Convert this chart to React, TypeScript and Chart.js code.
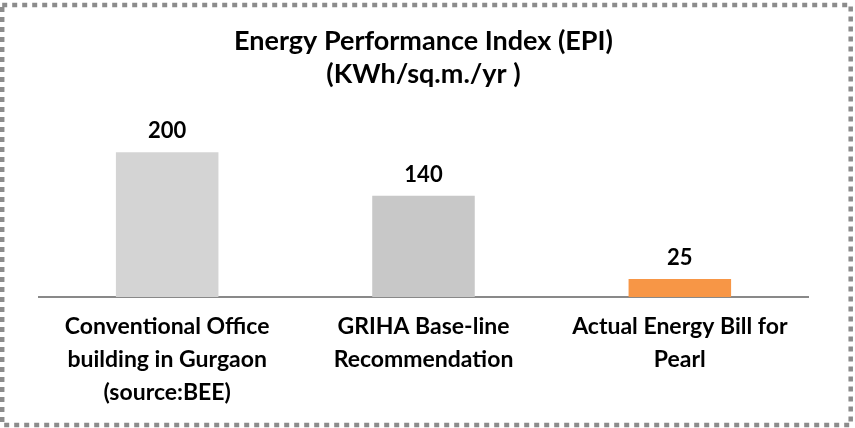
import React, { useEffect, useRef } from "react";
import { Chart, registerables } from "chart.js";

Chart.register(...registerables);

const categories: string[][] = [
  ["Conventional Office", "building in Gurgaon", "(source:BEE)"],
  ["GRIHA Base-line", "Recommendation"],
  ["Actual Energy Bill for", "Pearl"],
];
const epiValues: number[] = [200, 140, 25];
const barColors: string[] = ["#d4d4d4", "#c8c8c8", "#f79646"];
const titleLines: string[] = ["Energy Performance Index (EPI)", "(KWh/sq.m./yr )"];

const FONT = "Lato, 'Open Sans', sans-serif";

const valueLabels = {
  id: "valueLabels",
  afterDatasetsDraw(chart: any) {
    const ctx = chart.ctx;
    const meta = chart.getDatasetMeta(0);
    ctx.save();
    ctx.font = `bold 22px ${FONT}`;
    ctx.fillStyle = "#000";
    ctx.textAlign = "center";
    ctx.textBaseline = "alphabetic";
    meta.data.forEach((bar: any, i: number) => {
      ctx.fillText(String(chart.data.datasets[0].data[i]), bar.x, bar.y - 14);
    });
    ctx.restore();
  },
};

const dashedFrame = {
  id: "dashedFrame",
  afterDraw(chart: any) {
    const ctx = chart.ctx;
    ctx.save();
    ctx.strokeStyle = "#8c8c8c";
    ctx.lineWidth = 4.5;
    ctx.setLineDash([5, 5]);
    ctx.strokeRect(2.2, 5, 848.5, 420);
    ctx.restore();
  },
};

export default function App() {
  const ref = useRef<HTMLCanvasElement | null>(null);
  useEffect(() => {
    document.body.style.margin = "0";
    const chart = new Chart(ref.current as HTMLCanvasElement, {
      type: "bar",
      data: {
        labels: categories,
        datasets: [
          {
            data: epiValues,
            backgroundColor: barColors,
            borderWidth: 0,
            barPercentage: 0.4,
            categoryPercentage: 1,
          },
        ],
      },
      options: {
        responsive: false,
        animation: false,
        layout: { padding: { left: 39, right: 47, top: 0, bottom: 6 } },
        plugins: {
          legend: { display: false },
          tooltip: { enabled: false },
          title: {
            display: true,
            text: titleLines,
            color: "#000",
            font: { family: FONT, size: 27, weight: "bold", lineHeight: 33 / 27 },
            padding: { top: 25, bottom: 25 },
          },
        },
        scales: {
          y: { display: false, min: 0, max: 250 },
          x: {
            grid: { display: false, drawTicks: false },
            border: { display: true, color: "#898989", width: 2 },
            ticks: {
              color: "#000",
              font: { family: FONT, size: 23, weight: "bold", lineHeight: 33 / 23 },
              padding: 13,
              maxRotation: 0,
              autoSkip: false,
            },
          },
        },
      },
      plugins: [valueLabels, dashedFrame],
    });
    return () => chart.destroy();
  }, []);
  return (
    <div style={{ width: 855, height: 428 }}>
      <canvas ref={ref} width={855} height={428} />
    </div>
  );
}
